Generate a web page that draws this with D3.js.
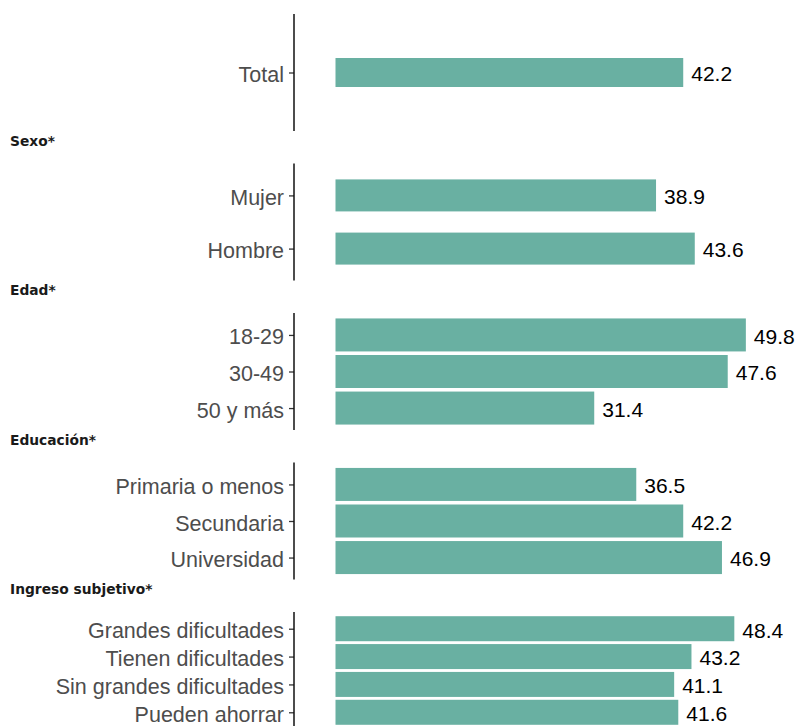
<!DOCTYPE html>
<html>
<head>
<meta charset="utf-8">
<script src="https://cdn.jsdelivr.net/npm/d3@7"></script>
<style>
  html, body { margin: 0; padding: 0; background: #fff; }
  svg { display: block; }
</style>
</head>
<body>
<svg width="801" height="726"></svg>
<script>
'use strict';

// groups (facets), their categories and values (%)
var groups = ["", "Sexo*", "Edad*", "Educación*", "Ingreso subjetivo*"];
var totalCats = ["Total"];
var totalVals = [42.2];
var sexoCats = ["Mujer", "Hombre"];
var sexoVals = [38.9, 43.6];
var edadCats = ["18-29", "30-49", "50 y más"];
var edadVals = [49.8, 47.6, 31.4];
var educCats = ["Primaria o menos", "Secundaria", "Universidad"];
var educVals = [36.5, 42.2, 46.9];
var ingresoCats = ["Grandes dificultades", "Tienen dificultades", "Sin grandes dificultades", "Pueden ahorrar"];
var ingresoVals = [48.4, 43.2, 41.1, 41.6];

var panels = [
  { title: groups[0], cats: totalCats, vals: totalVals, barH: 29 },
  { title: groups[1], cats: sexoCats, vals: sexoVals, barH: 32 },
  { title: groups[2], cats: edadCats, vals: edadVals, barH: 33 },
  { title: groups[3], cats: educCats, vals: educVals, barH: 33 },
  { title: groups[4], cats: ingresoCats, vals: ingresoVals, barH: 25 }
];

var svg = d3.select('svg');
var axisX = 294;
var panelTop = 14;
var panelH = 117;
var step = 149.5;

var x = d3.scaleLinear().domain([0, 50]).range([335.5, 747.5]);

panels.forEach(function (p, i) {
  var top = panelTop + i * step;

  // strip label sits above the panel
  if (p.title) {
    svg.append('text')
      .attr('x', 10)
      .attr('y', top - 18)
      .attr('font-family', 'DejaVu Sans, Verdana, sans-serif')
      .attr('font-weight', 'bold')
      .attr('font-size', '13.8px')
      .attr('fill', '#1a1a1a')
      .text(p.title);
  }

  // discrete scale with ggplot-like 0.6 expansion
  var n = p.cats.length;
  var y = d3.scaleLinear().domain([0.4, n + 0.6]).range([top, top + panelH]);
  var pos = function (d, j) { return y(j + 1); };

  var g = svg.append('g').attr('class', 'panel');

  g.selectAll('rect')
    .data(p.vals)
    .enter()
    .append('rect')
    .attr('x', x(0))
    .attr('y', function (d, j) { return pos(d, j) - p.barH / 2; })
    .attr('width', function (d) { return x(d) - x(0); })
    .attr('height', p.barH)
    .attr('fill', '#69b0a2');

  g.selectAll('text.val')
    .data(p.vals)
    .enter()
    .append('text')
    .attr('class', 'val')
    .attr('x', function (d) { return x(d) + 8; })
    .attr('y', function (d, j) { return pos(d, j); })
    .attr('dy', '0.42em')
    .attr('font-family', 'Liberation Sans, Arial, sans-serif')
    .attr('font-size', '21px')
    .attr('fill', '#000')
    .text(function (d) { return d.toFixed(1); });

  // y axis
  var yAxis = d3.axisLeft(d3.scalePoint().domain(p.cats).range([y(1), y(n)]))
    .tickSize(5)
    .tickPadding(5);
  var ax = g.append('g')
    .attr('transform', 'translate(' + axisX + ',0)')
    .call(yAxis);
  ax.select('.domain').remove();
  ax.selectAll('.tick line').attr('stroke', '#333').attr('stroke-width', 1.3);
  ax.selectAll('.tick text')
    .attr('dy', '0.42em')
    .attr('font-family', 'Liberation Sans, Arial, sans-serif')
    .attr('font-size', '21.5px')
    .attr('fill', '#4d4d4d');
  ax.append('line')
    .attr('x1', 0).attr('x2', 0)
    .attr('y1', top).attr('y2', top + panelH)
    .attr('stroke', '#111')
    .attr('stroke-width', 1.5);
});
</script>
</body>
</html>
